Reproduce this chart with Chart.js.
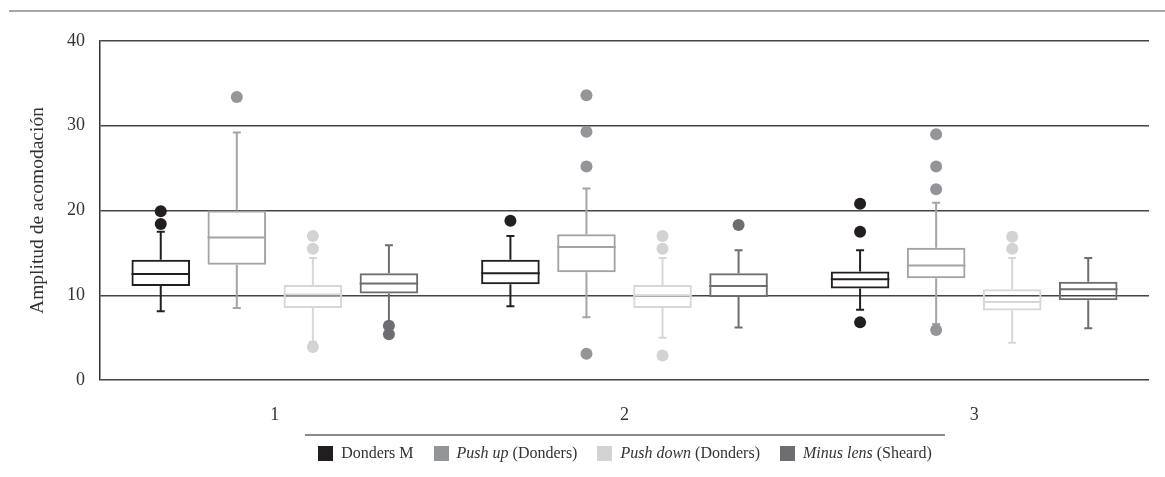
<!DOCTYPE html>
<html>
<head>
<meta charset="utf-8">
<script src="https://cdn.jsdelivr.net/npm/chart.js@4"></script>
<style>
  body { margin: 0; background: #fff; }
  #wrap { position: relative; width: 1165px; height: 477px; }
  #topRule { position: absolute; left: 9px; right: 0; top: 10px; height: 2px; background: #a7a7a7; }
  #legendRule { position: absolute; left: 305px; width: 640px; top: 434px; height: 2px; background: #8a8a8a; }
  #legend { position: absolute; left: 305px; width: 640px; top: 444px; display: flex; justify-content: center;
    font-family: "Liberation Serif", serif; font-size: 16px; color: #333; }
  #legend span.item { display: flex; align-items: center; margin: 0 10px; white-space: nowrap; }
  #legend span.sw { display: inline-block; width: 15px; height: 15px; margin-right: 8px; }
</style>
</head>
<body>
<div id="wrap">
  <canvas id="boxChart" width="1165" height="477"></canvas>
  <div id="topRule"></div>
  <div id="legendRule"></div>
  <div id="legend"></div>
</div>
<script>
// categories and tick labels
const categories = ["1", "2", "3"];
const yTicks = [0, 10, 20, 30, 40];

// five-number summaries per category: [lower whisker, Q1, median, Q3, upper whisker]
const dondersM = [[8.1, 11.1, 12.5, 14.2, 17.5], [8.7, 11.3, 12.6, 14.2, 17.0], [8.3, 10.8, 11.9, 12.8, 15.3]];
const pushUp = [[8.5, 13.6, 16.8, 20.0, 29.2], [7.4, 12.7, 15.7, 17.2, 22.6], [6.6, 12.0, 13.5, 15.6, 20.9]];
const pushDown = [[4.5, 8.5, 10.1, 11.2, 14.4], [5.0, 8.5, 10.0, 11.2, 14.4], [4.4, 8.2, 9.2, 10.7, 14.4]];
const minusLens = [[6.6, 10.2, 11.4, 12.6, 15.9], [6.2, 9.8, 11.1, 12.6, 15.3], [6.1, 9.4, 10.7, 11.6, 14.4]];

// outliers per category
const dondersMOut = [[19.9, 18.4], [18.8], [20.8, 17.5, 6.8]];
const pushUpOut = [[33.4], [33.6, 29.3, 25.2, 3.1], [29.0, 25.2, 22.5, 5.9]];
const pushDownOut = [[17.0, 15.5, 3.9], [17.0, 15.5, 2.9], [16.9, 15.5]];
const minusLensOut = [[6.4, 5.4], [18.3], []];

const series = [
  { name: "Donders M", italic: "", rest: "Donders M", box: dondersM, out: dondersMOut, line: "#231f20", dot: "#231f20" },
  { name: "Push up (Donders)", italic: "Push up", rest: " (Donders)", box: pushUp, out: pushUpOut, line: "#a2a4a7", dot: "#939598" },
  { name: "Push down (Donders)", italic: "Push down", rest: " (Donders)", box: pushDown, out: pushDownOut, line: "#d6d7d8", dot: "#d1d3d4" },
  { name: "Minus lens (Sheard)", italic: "Minus lens", rest: " (Sheard)", box: minusLens, out: minusLensOut, line: "#6d6e71", dot: "#6d6e71" },
];

Chart.defaults.font.family = "'Liberation Serif', serif";
Chart.defaults.color = "#333";

// whiskers, medians and outliers, placed with the chart's own scales
const boxExtras = {
  id: "boxExtras",
  afterDatasetsDraw(chart) {
    const ctx = chart.ctx;
    const y = chart.scales.y;
    series.forEach((s, d) => {
      const meta = chart.getDatasetMeta(d);
      meta.data.forEach((bar, i) => {
        const [lo, q1, med, q3, hi] = s.box[i];
        const x = bar.x, half = bar.width / 2;
        ctx.save();
        ctx.strokeStyle = s.line;
        ctx.lineWidth = 2;
        ctx.beginPath();
        // median
        ctx.moveTo(x - half, y.getPixelForValue(med));
        ctx.lineTo(x + half, y.getPixelForValue(med));
        // upper whisker
        ctx.moveTo(x, y.getPixelForValue(q3));
        ctx.lineTo(x, y.getPixelForValue(hi));
        ctx.moveTo(x - 4, y.getPixelForValue(hi));
        ctx.lineTo(x + 4, y.getPixelForValue(hi));
        // lower whisker
        ctx.moveTo(x, y.getPixelForValue(q1));
        ctx.lineTo(x, y.getPixelForValue(lo));
        ctx.moveTo(x - 4, y.getPixelForValue(lo));
        ctx.lineTo(x + 4, y.getPixelForValue(lo));
        ctx.stroke();
        // outliers
        ctx.fillStyle = s.dot;
        s.out[i].forEach(v => {
          ctx.beginPath();
          ctx.arc(x, y.getPixelForValue(v), 6, 0, Math.PI * 2);
          ctx.fill();
        });
        ctx.restore();
      });
    });
  }
};

const datasets = series.map(s => ({
  label: s.name,
  data: s.box.map(b => [b[1], b[3]]),
  backgroundColor: "rgba(255,255,255,0)",
  borderColor: s.line,
  borderWidth: 2,
  borderSkipped: false,
  categoryPercentage: 0.87,
  barPercentage: 0.77,
}));

new Chart(document.getElementById("boxChart").getContext("2d"), {
  type: "bar",
  data: { labels: categories, datasets },
  options: {
    responsive: false,
    animation: false,
    layout: { padding: { top: 41, right: 16, left: 0, bottom: 0 } },
    plugins: { legend: { display: false }, tooltip: { enabled: false } },
    scales: {
      x: {
        grid: { display: false },
        border: { display: false },
        ticks: { font: { size: 18 }, color: "#333", padding: 16 },
        afterFit: (scale) => { scale.width; scale.height = 97; },
      },
      y: {
        min: 0,
        max: 40,
        afterBuildTicks: (scale) => { scale.ticks = yTicks.map(v => ({ value: v })); },
        grid: { color: "#444", lineWidth: 1.5, drawTicks: false },
        border: { display: true, color: "#333", width: 1.5 },
        ticks: { font: { size: 18 }, color: "#333", padding: 15 },
        title: { display: true, text: "Amplitud de acomodación", font: { size: 19.5 }, color: "#333", padding: { top: 26, bottom: 0 } },
        afterFit: (scale) => { scale.width = 100; },
      },
    },
  },
  plugins: [boxExtras],
});

// legend as HTML so the italic parts stay real text
const legend = document.getElementById("legend");
series.forEach(s => {
  const item = document.createElement("span");
  item.className = "item";
  const sw = document.createElement("span");
  sw.className = "sw";
  sw.style.background = s.dot;
  item.appendChild(sw);
  const label = document.createElement("span");
  if (s.italic) {
    const em = document.createElement("i");
    em.textContent = s.italic;
    label.appendChild(em);
  }
  label.appendChild(document.createTextNode(s.rest.replace(/ /g, "\u00a0")));
  item.appendChild(label);
  legend.appendChild(item);
});
</script>
</body>
</html>
